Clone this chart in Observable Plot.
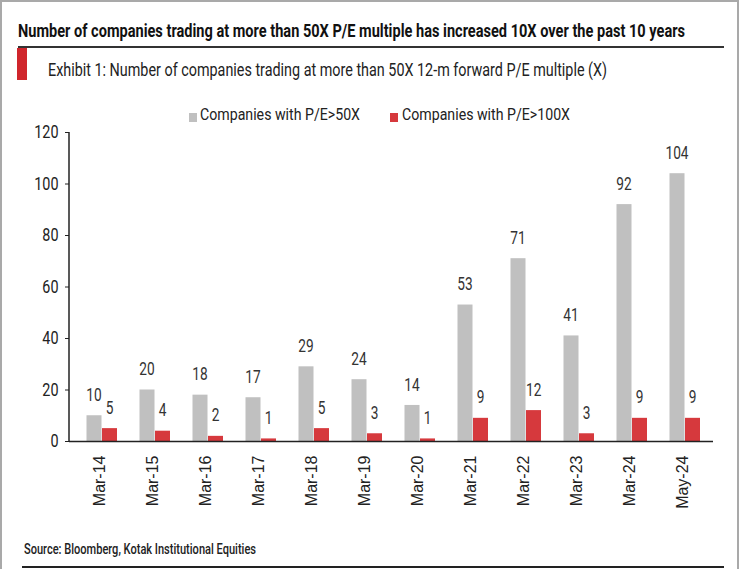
<!DOCTYPE html>
<html><head><meta charset="utf-8">
<script src="https://cdn.jsdelivr.net/npm/d3@7"></script>
<script src="https://cdn.jsdelivr.net/npm/@observablehq/plot@0.6"></script>
<style>
body{margin:0;background:#fff;}
#wrap{position:relative;width:739px;height:569px;overflow:hidden;font-family:Roboto,"Liberation Sans",sans-serif;color:#111;background:#fff;}
#border{position:absolute;left:0;top:0;width:735px;height:575px;border:2px solid #a9a9a9;box-sizing:content-box;}
.fit{position:absolute;white-space:nowrap;line-height:1;transform-origin:0 0;display:inline-block;}
#title{left:18px;top:22px;font-size:18px;font-weight:bold;color:#111;}
#rule1{position:absolute;left:18px;top:46px;width:706px;height:1.5px;background:#333;}
#redmark{position:absolute;left:17px;top:48px;width:10px;height:32px;background:#d0262c;}
#exhibit{left:48px;top:60px;font-size:19px;color:#222;}
.legsw{position:absolute;width:8px;height:9px;top:113px;}
.legtx{top:107px;font-size:16.5px;color:#222;}
#chart{position:absolute;left:0;top:112px;}
#source{left:24px;top:542px;font-size:15.5px;font-weight:500;color:#222;}
#rule2{position:absolute;left:22px;top:566px;width:702px;height:2px;background:#222;}
</style></head>
<body>
<div id="wrap">
  <div id="border"></div>
  <div id="title" class="fit" data-w="667">Number of companies trading at more than 50X P/E multiple has increased 10X over the past 10 years</div>
  <div id="rule1"></div>
  <div id="redmark"></div>
  <div id="exhibit" class="fit" data-w="559">Exhibit 1: Number of companies trading at more than 50X 12-m forward P/E multiple (X)</div>
  <div id="chart"></div>
  <div id="source" class="fit" data-w="232">Source: Bloomberg, Kotak Institutional Equities</div>
  <div id="rule2"></div>
</div>
<script>
const periods = ["Mar-14","Mar-15","Mar-16","Mar-17","Mar-18","Mar-19","Mar-20","Mar-21","Mar-22","Mar-23","Mar-24","May-24"];
const pe50 = [10,20,18,17,29,24,14,53,71,41,92,104];
const pe100 = [5,4,2,1,5,3,1,9,12,3,9,9];
const seriesNames = ["Companies with P/E>50X","Companies with P/E>100X"];
const seriesColors = ["#c0c0c0","#d6393d"];
const yTicks = [0,20,40,60,80,100,120];

const rows50 = periods.map((p,i)=>({period:p, value:pe50[i], series:seriesNames[0]}));
const rows100 = periods.map((p,i)=>({period:p, value:pe100[i], series:seriesNames[1]}));

const wrap = document.getElementById("wrap");

const chart = Plot.plot({
  width: 739,
  height: 413,
  marginLeft: 69,
  marginRight: 26,
  marginTop: 20,
  marginBottom: 84,
  style: {fontFamily: "Roboto, 'Liberation Sans', sans-serif", color: "#222", background: "transparent"},
  x: {domain: periods, padding: 0, label: null, tickSize: 0},
  y: {domain: [0,120], label: null},
  marks: [
    Plot.axisY({ticks: yTicks, tickSize: 4, tickPadding: 7, fontSize: 18, label: null, stroke: "#222"}),
    Plot.axisX({tickRotate: -90, tickSize: 0, tickPadding: 14, fontSize: 16, label: null, fontFamily: "'Liberation Sans', Arial, sans-serif"}),
    Plot.barY(rows50, {x: "period", y: "value", fill: seriesColors[0], insetLeft: 13.5, insetRight: 24.5}),
    Plot.barY(rows100, {x: "period", y: "value", fill: seriesColors[1], insetLeft: 29, insetRight: 9}),
    Plot.text(rows50, {x: "period", y: "value", text: d => String(d.value), dx: -6, dy: -21, fontSize: 19, fill: "#333"}),
    Plot.text(rows100, {x: "period", y: "value", text: d => String(d.value), dx: 9.7, dy: -21, fontSize: 19, fill: "#333"}),
    Plot.ruleY([0], {stroke: "#222", strokeWidth: 1.5})
  ]
});
document.getElementById("chart").appendChild(chart);
// y axis domain line drawn from the y scale
const ys = chart.scale("y");
const xr = chart.scale("x").range;
d3.select(chart).append("line")
  .attr("x1", xr[0]).attr("x2", xr[0])
  .attr("y1", ys.apply(0)).attr("y2", ys.apply(120))
  .attr("stroke", "#222").attr("stroke-width", 1.5);

// legend (HTML, above the svg)
const legLayout = [{sw:189, tx:200, w:160}, {sw:390, tx:402, w:168}];
seriesNames.forEach((n,i)=>{
  const sw = document.createElement("div"); sw.className="legsw";
  sw.style.left = legLayout[i].sw+"px"; sw.style.background = seriesColors[i];
  wrap.appendChild(sw);
  const tx = document.createElement("div"); tx.className="fit legtx";
  tx.style.left = legLayout[i].tx+"px"; tx.dataset.w = legLayout[i].w; tx.textContent = n;
  wrap.appendChild(tx);
});

// condense SVG texts (reference uses a condensed face)
function condense(sel, k){
  d3.select(chart).selectAll(sel).each(function(){
    const L = this.getComputedTextLength();
    if (L > 0) { this.setAttribute("textLength", (L*k).toFixed(2)); this.setAttribute("lengthAdjust", "spacingAndGlyphs"); }
  });
}
condense('g[aria-label="y-axis tick label"] text', 0.8);
condense('g[aria-label="text"] text', 0.72);

// fit HTML texts to reference widths
document.querySelectorAll(".fit").forEach(el=>{
  const w = +el.dataset.w; const cur = el.getBoundingClientRect().width;
  if (w && cur) el.style.transform = `scaleX(${w/cur})`;
});
</script>
</body></html>
